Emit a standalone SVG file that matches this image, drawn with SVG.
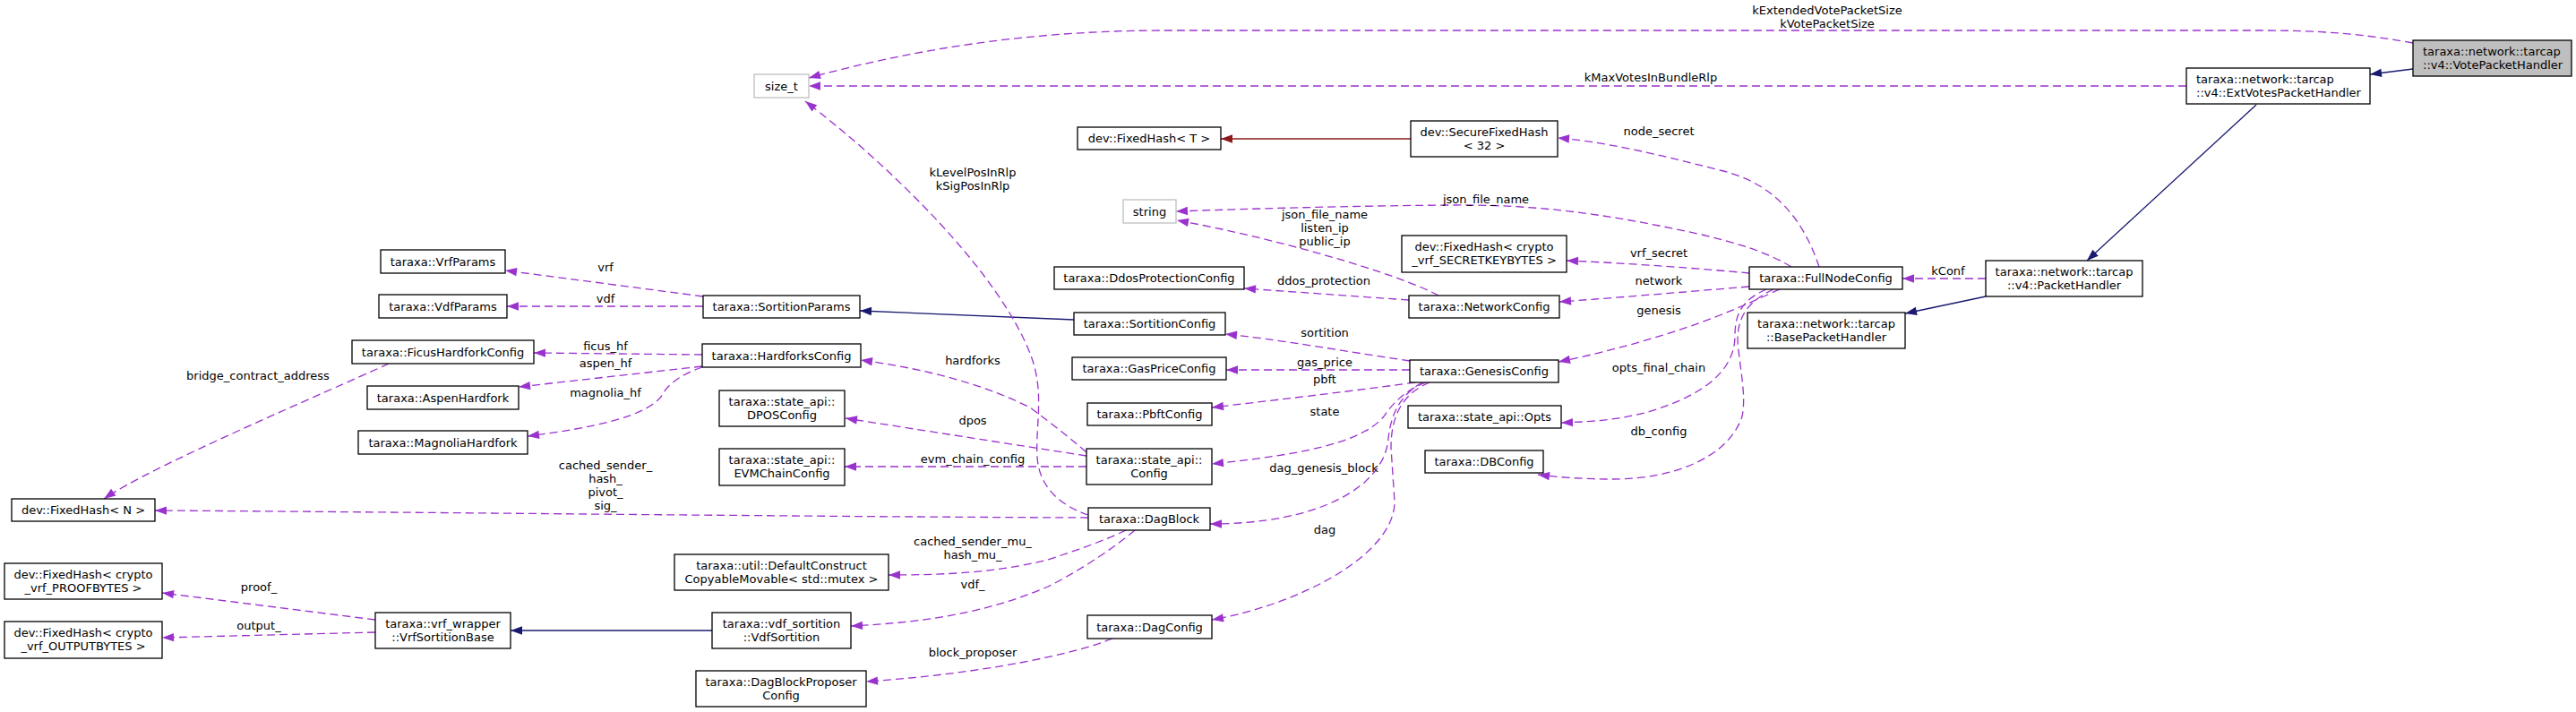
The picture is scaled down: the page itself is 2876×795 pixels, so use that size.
<svg xmlns="http://www.w3.org/2000/svg" width="2876" height="795" viewBox="0 0 2876 795">
<style>
text{font-family:"DejaVu Sans","Liberation Sans",sans-serif;font-size:13px;fill:#000}
.node rect{fill:#fff;stroke:#000;stroke-width:1.3}
.node.root rect{fill:#bfbfbf}
.node.ext rect{stroke:#bfbfbf}
.node text{text-anchor:middle}
.node text.l{text-anchor:start}
.edges path{fill:none;stroke-width:1.3}
.u{stroke:#9a32cd;stroke-dasharray:9,5;marker-end:url(#ap)}
.i{stroke:#191970;marker-end:url(#ab)}
.r{stroke:#8b1a1a;marker-end:url(#ar)}
.lbl text{text-anchor:middle}
</style>
<defs>
<marker id="ap" markerUnits="userSpaceOnUse" markerWidth="14" markerHeight="10" refX="13" refY="5" orient="auto" viewBox="0 0 13 10" overflow="visible"><path d="M0,0.3 L13,5 L0,9.7 z" fill="#9a32cd"/></marker>
<marker id="ab" markerUnits="userSpaceOnUse" markerWidth="14" markerHeight="10" refX="13" refY="5" orient="auto" viewBox="0 0 13 10" overflow="visible"><path d="M0,0.3 L13,5 L0,9.7 z" fill="#191970"/></marker>
<marker id="ar" markerUnits="userSpaceOnUse" markerWidth="14" markerHeight="10" refX="13" refY="5" orient="auto" viewBox="0 0 13 10" overflow="visible"><path d="M0,0.3 L13,5 L0,9.7 z" fill="#8b1a1a"/></marker>
</defs>
<rect width="2876" height="795" fill="#fff"/>
<g id="connectors" class="edges">
<path class="u" d="M2694,48 C2640,38 2590,34 2530,34 L1300,34 C1150,34 1020,55 903,87"/>
<path class="i" d="M2694,77 L2646,83"/>
<path class="u" d="M2441,96 L903,96"/>
<path class="i" d="M2519,117 L2330,291"/>
<path class="u" d="M2217,311 L2124,311"/>
<path class="i" d="M2217,331 L2127,350"/>
<path class="u" d="M2031,298 C2015,250 1985,205 1920,190 C1850,172 1790,158 1739,154"/>
<path class="u" d="M2000,298 C1970,280 1940,272 1900,262 C1800,240 1720,228 1620,229 C1500,230 1400,233 1313,236"/>
<path class="u" d="M1953,305 C1900,300 1820,294 1749,291"/>
<path class="u" d="M1953,320 C1880,326 1810,332 1741,337"/>
<path class="u" d="M1987,323 C1960,335 1950,340 1920,352 C1870,372 1800,392 1740,404"/>
<path class="u" d="M1972,323 C1945,335 1937,350 1937,375 C1937,420 1890,445 1840,460 C1810,468 1780,471 1743,472"/>
<path class="u" d="M1980,323 C1955,335 1940,350 1940,380 C1942,410 1950,440 1945,465 C1930,510 1870,535 1800,535 C1770,535 1740,533 1717,530"/>
<path class="u" d="M1574,403 C1500,392 1420,378 1368,373"/>
<path class="u" d="M1574,413 L1369,413"/>
<path class="u" d="M1580,427 C1500,438 1420,447 1353,455"/>
<path class="u" d="M1592,427 C1570,435 1555,450 1545,465 C1520,495 1450,508 1353,518"/>
<path class="u" d="M1588,427 C1565,440 1553,460 1550,490 C1545,545 1470,585 1351,585"/>
<path class="u" d="M1596,427 C1565,440 1553,465 1553,500 L1557,560 C1557,620 1450,675 1353,692"/>
<path class="i" d="M1199,357 L960,347"/>
<path class="u" d="M785,331 L564,302"/>
<path class="u" d="M785,342 L566,342"/>
<path class="u" d="M784,396 L596,394"/>
<path class="u" d="M784,409 L579,432"/>
<path class="u" d="M784,410 C760,418 745,430 740,440 C725,465 660,478 589,487"/>
<path class="u" d="M434,406 C360,440 170,520 116,557"/>
<path class="u" d="M1215,578 C900,577 500,572 173,570"/>
<path class="u" d="M1215,575 C1185,565 1160,545 1158,510 C1156,475 1166,440 1152,400 C1120,310 1000,190 899,113"/>
<path class="u" d="M1213,505 C1190,485 1170,470 1150,455 C1090,425 1020,410 961,402"/>
<path class="u" d="M1213,509 L944,467"/>
<path class="u" d="M1213,521 L943,521"/>
<path class="u" d="M1257,592 C1230,605 1200,615 1170,625 C1110,640 1050,642 992,642"/>
<path class="u" d="M1267,592 C1240,615 1200,640 1170,655 C1100,685 1030,695 950,699"/>
<path class="i" d="M795,704 L570,704"/>
<path class="u" d="M419,692 L181,662"/>
<path class="u" d="M419,706 L181,712"/>
<path class="u" d="M1242,713 C1200,730 1100,752 967,761"/>
<path class="r" d="M1575,155 L1363,155"/>
<path class="u" d="M1606,330 C1560,305 1420,265 1314,246"/>
<path class="u" d="M1573,335 L1389,322"/>
</g>
<g id="edge-labels" class="lbl">
<text x="2040" y="16">kExtendedVotePacketSize</text>
<text x="2040" y="31">kVotePacketSize</text>
<text x="1843" y="91">kMaxVotesInBundleRlp</text>
<text x="2175" y="307">kConf</text>
<text x="1852" y="151">node_secret</text>
<text x="1659" y="227">json_file_name</text>
<text x="1479" y="244">json_file_name</text>
<text x="1479" y="259">listen_ip</text>
<text x="1479" y="274">public_ip</text>
<text x="1852" y="287">vrf_secret</text>
<text x="1478" y="318">ddos_protection</text>
<text x="1852" y="318">network</text>
<text x="1852" y="351">genesis</text>
<text x="1479" y="376">sortition</text>
<text x="1086" y="197">kLevelPosInRlp</text>
<text x="1086" y="212">kSigPosInRlp</text>
<text x="676" y="303">vrf</text>
<text x="676" y="338">vdf</text>
<text x="676" y="391">ficus_hf</text>
<text x="676" y="410">aspen_hf</text>
<text x="676" y="443">magnolia_hf</text>
<text x="288" y="424">bridge_contract_address</text>
<text x="1086" y="407">hardforks</text>
<text x="1479" y="409">gas_price</text>
<text x="1479" y="428">pbft</text>
<text x="1852" y="415">opts_final_chain</text>
<text x="1479" y="464">state</text>
<text x="1086" y="474">dpos</text>
<text x="1852" y="486">db_config</text>
<text x="1086" y="517">evm_chain_config</text>
<text x="1478" y="527">dag_genesis_block</text>
<text x="676" y="524">cached_sender_</text>
<text x="676" y="539">hash_</text>
<text x="676" y="554">pivot_</text>
<text x="676" y="569">sig_</text>
<text x="1479" y="596">dag</text>
<text x="1086" y="609">cached_sender_mu_</text>
<text x="1086" y="624">hash_mu_</text>
<text x="1086" y="657">vdf_</text>
<text x="289" y="660">proof_</text>
<text x="289" y="703">output_</text>
<text x="1086" y="733">block_proposer</text>
</g>
<g id="n-VotePacketHandler" class="node root"><rect x="2694" y="45" width="177" height="40"/><text class="l" x="2705" y="61.5">taraxa::network::tarcap</text><text class="l" x="2705" y="76.5">::v4::VotePacketHandler</text></g>
<g id="n-ExtVotesPacketHandler" class="node"><rect x="2441" y="76" width="205" height="40"/><text class="l" x="2452" y="92.5">taraxa::network::tarcap</text><text class="l" x="2452" y="107.5">::v4::ExtVotesPacketHandler</text></g>
<g id="n-size_t" class="node ext"><rect x="842" y="83" width="61" height="26"/><text x="872.5" y="100.5">size_t</text></g>
<g id="n-PacketHandler" class="node"><rect x="2217" y="291" width="175" height="40"/><text x="2304.5" y="307.5">taraxa::network::tarcap</text><text x="2304.5" y="322.5">::v4::PacketHandler</text></g>
<g id="n-FullNodeConfig" class="node"><rect x="1953" y="298" width="171" height="25"/><text x="2038.5" y="315">taraxa::FullNodeConfig</text></g>
<g id="n-BasePacketHandler" class="node"><rect x="1951" y="349" width="176" height="40"/><text x="2039" y="365.5">taraxa::network::tarcap</text><text x="2039" y="380.5">::BasePacketHandler</text></g>
<g id="n-SecureFixedHash" class="node"><rect x="1575" y="135" width="164" height="40"/><text x="1657" y="151.5">dev::SecureFixedHash</text><text x="1657" y="166.5">&lt; 32 &gt;</text></g>
<g id="n-FixedHashT" class="node"><rect x="1203" y="142" width="160" height="25"/><text x="1283" y="159">dev::FixedHash&lt; T &gt;</text></g>
<g id="n-string" class="node ext"><rect x="1254" y="223" width="59" height="26"/><text x="1283.5" y="240.5">string</text></g>
<g id="n-SecretKeyBytes" class="node"><rect x="1565" y="263" width="184" height="41"/><text x="1657" y="279.5">dev::FixedHash&lt; crypto</text><text x="1657" y="294.5">_vrf_SECRETKEYBYTES &gt;</text></g>
<g id="n-DdosProtectionConfig" class="node"><rect x="1177" y="298" width="212" height="25"/><text x="1283" y="315">taraxa::DdosProtectionConfig</text></g>
<g id="n-NetworkConfig" class="node"><rect x="1573" y="330" width="168" height="25"/><text x="1657" y="347">taraxa::NetworkConfig</text></g>
<g id="n-SortitionConfig" class="node"><rect x="1199" y="349" width="169" height="25"/><text x="1283.5" y="366">taraxa::SortitionConfig</text></g>
<g id="n-GenesisConfig" class="node"><rect x="1574" y="402" width="166" height="25"/><text x="1657" y="419">taraxa::GenesisConfig</text></g>
<g id="n-GasPriceConfig" class="node"><rect x="1197" y="399" width="172" height="25"/><text x="1283" y="416">taraxa::GasPriceConfig</text></g>
<g id="n-PbftConfig" class="node"><rect x="1214" y="450" width="139" height="25"/><text x="1283.5" y="467">taraxa::PbftConfig</text></g>
<g id="n-Opts" class="node"><rect x="1572" y="453" width="171" height="25"/><text x="1657.5" y="470">taraxa::state_api::Opts</text></g>
<g id="n-StateConfig" class="node"><rect x="1213" y="501" width="140" height="40"/><text x="1283" y="517.5">taraxa::state_api::</text><text x="1283" y="532.5">Config</text></g>
<g id="n-DBConfig" class="node"><rect x="1591" y="503" width="132" height="25"/><text x="1657" y="520">taraxa::DBConfig</text></g>
<g id="n-DagBlock" class="node"><rect x="1215" y="567" width="136" height="25"/><text x="1283" y="584">taraxa::DagBlock</text></g>
<g id="n-DagConfig" class="node"><rect x="1214" y="687" width="139" height="26"/><text x="1283.5" y="704.5">taraxa::DagConfig</text></g>
<g id="n-SortitionParams" class="node"><rect x="785" y="330" width="175" height="25"/><text x="872.5" y="347">taraxa::SortitionParams</text></g>
<g id="n-VrfParams" class="node"><rect x="425" y="279" width="139" height="26"/><text x="494.5" y="296.5">taraxa::VrfParams</text></g>
<g id="n-VdfParams" class="node"><rect x="423" y="329" width="143" height="26"/><text x="494.5" y="346.5">taraxa::VdfParams</text></g>
<g id="n-FicusHardforkConfig" class="node"><rect x="393" y="380" width="203" height="26"/><text x="494.5" y="397.5">taraxa::FicusHardforkConfig</text></g>
<g id="n-HardforksConfig" class="node"><rect x="784" y="384" width="177" height="26"/><text x="872.5" y="401.5">taraxa::HardforksConfig</text></g>
<g id="n-AspenHardfork" class="node"><rect x="410" y="431" width="169" height="26"/><text x="494.5" y="448.5">taraxa::AspenHardfork</text></g>
<g id="n-MagnoliaHardfork" class="node"><rect x="400" y="481" width="189" height="26"/><text x="494.5" y="498.5">taraxa::MagnoliaHardfork</text></g>
<g id="n-DPOSConfig" class="node"><rect x="803" y="436" width="140" height="40"/><text x="873" y="452.5">taraxa::state_api::</text><text x="873" y="467.5">DPOSConfig</text></g>
<g id="n-EVMChainConfig" class="node"><rect x="803" y="501" width="140" height="41"/><text x="873" y="517.5">taraxa::state_api::</text><text x="873" y="532.5">EVMChainConfig</text></g>
<g id="n-FixedHashN" class="node"><rect x="13" y="557" width="160" height="25"/><text x="93" y="574">dev::FixedHash&lt; N &gt;</text></g>
<g id="n-DefaultConstruct" class="node"><rect x="753" y="619" width="239" height="40"/><text x="872.5" y="635.5">taraxa::util::DefaultConstruct</text><text x="872.5" y="650.5">CopyableMovable&lt; std::mutex &gt;</text></g>
<g id="n-ProofBytes" class="node"><rect x="5" y="629" width="176" height="40"/><text x="93" y="645.5">dev::FixedHash&lt; crypto</text><text x="93" y="660.5">_vrf_PROOFBYTES &gt;</text></g>
<g id="n-OutputBytes" class="node"><rect x="5" y="694" width="176" height="41"/><text x="93" y="710.5">dev::FixedHash&lt; crypto</text><text x="93" y="725.5">_vrf_OUTPUTBYTES &gt;</text></g>
<g id="n-VrfSortitionBase" class="node"><rect x="419" y="684" width="151" height="40"/><text x="494.5" y="700.5">taraxa::vrf_wrapper</text><text x="494.5" y="715.5">::VrfSortitionBase</text></g>
<g id="n-VdfSortition" class="node"><rect x="795" y="684" width="155" height="40"/><text x="872.5" y="700.5">taraxa::vdf_sortition</text><text x="872.5" y="715.5">::VdfSortition</text></g>
<g id="n-DagBlockProposerConfig" class="node"><rect x="777" y="749" width="190" height="40"/><text x="872" y="765.5">taraxa::DagBlockProposer</text><text x="872" y="780.5">Config</text></g>
</svg>
